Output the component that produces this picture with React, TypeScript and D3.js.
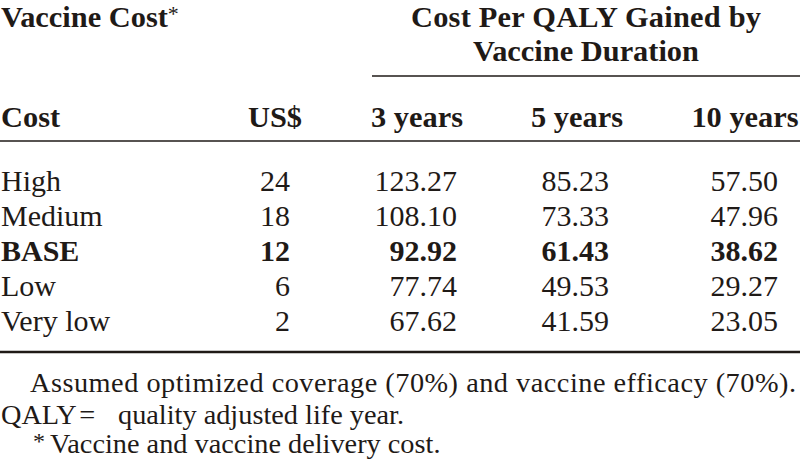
import React from "react";
import * as d3 from "d3";

const costLevels = ["High", "Medium", "BASE", "Low", "Very low"];
const usd = [24, 18, 12, 6, 2];
const years3 = ["123.27", "108.10", "92.92", "77.74", "67.62"];
const years5 = ["85.23", "73.33", "61.43", "49.53", "41.59"];
const years10 = ["57.50", "47.96", "38.62", "29.27", "23.05"];
const durationHeaders = ["3 years", "5 years", "10 years"];
const baseLevel = "BASE";

const W = 800;
const H = 461;
const FONT = "'Liberation Serif', 'Times New Roman', serif";
const INK = "#1f1a17";

export default function App() {
  const rowY = d3.scalePoint<string>().domain(costLevels).range([191, 331]);
  const durX = d3.scaleOrdinal<string, number>().domain(durationHeaders).range([417, 577, 745]);
  const durRight = d3.scaleOrdinal<string, number>().domain(durationHeaders).range([457, 609, 778]);
  const series = [years3, years5, years10];

  const head = 30.4;
  const body = 30;
  const foot = 28.3;
  return (
    <svg width={W} height={H} style={{ position: "absolute", left: 0, top: 0, background: "#fff", fontFamily: FONT }}
      fill={INK}>
      <rect x={0} y={0} width={W} height={H} fill="#fff" />
      {/* Top headers */}
      <text x={1} y={26.5} fontSize={head} fontWeight="bold">
        Vaccine Cost
        <tspan fontWeight="normal" fontSize={22} dy={-6}>*</tspan>
      </text>
      <text x={586} y={26.5} fontSize={head} fontWeight="bold" textAnchor="middle" textLength={350} lengthAdjust="spacing">Cost Per QALY Gained by</text>
      <text x={586} y={61} fontSize={head} fontWeight="bold" textAnchor="middle">Vaccine Duration</text>
      <line x1={372} x2={800} y1={76} y2={76} stroke={INK} strokeWidth={1.6} />

      {/* Column headers */}
      <text x={1} y={126.5} fontSize={head} fontWeight="bold">Cost</text>
      <text x={302} y={126.5} fontSize={head} fontWeight="bold" textAnchor="end">US$</text>
      {durationHeaders.map((h) => (
        <text key={h} x={durX(h)} y={126.5} fontSize={head} fontWeight="bold" textAnchor="middle">{h}</text>
      ))}
      <line x1={0} x2={800} y1={141} y2={141} stroke={INK} strokeWidth={1.6} />

      {/* Rows */}
      {costLevels.map((lvl, i) => {
        const y = rowY(lvl)!;
        const fw = lvl === baseLevel ? "bold" : "normal";
        return (
          <g key={lvl} fontWeight={fw} fontSize={body}>
            <text x={1} y={y}>{lvl}</text>
            <text x={290} y={y} textAnchor="end">{usd[i]}</text>
            {durationHeaders.map((h, j) => (
              <text key={h} x={durRight(h)} y={y} textAnchor="end">{series[j][i]}</text>
            ))}
          </g>
        );
      })}
      <line x1={0} x2={800} y1={352} y2={352} stroke={INK} strokeWidth={2.6} />

      {/* Footnotes */}
      <text x={30} y={392} fontSize={foot} textLength={766} lengthAdjust="spacing">
        Assumed optimized coverage (70%) and vaccine efficacy (70%).
      </text>
      <text y={424} fontSize={foot}>
        <tspan x={1}>QALY{"\u200A"}=</tspan>
        <tspan x={118}>quality adjusted life year.</tspan>
      </text>
      <text y={453} fontSize={foot}>
        <tspan x={33} dy={-4} fontSize={24}>*</tspan>
        <tspan x={50} dy={4}>Vaccine and vaccine delivery cost.</tspan>
      </text>
    </svg>
  );
}
